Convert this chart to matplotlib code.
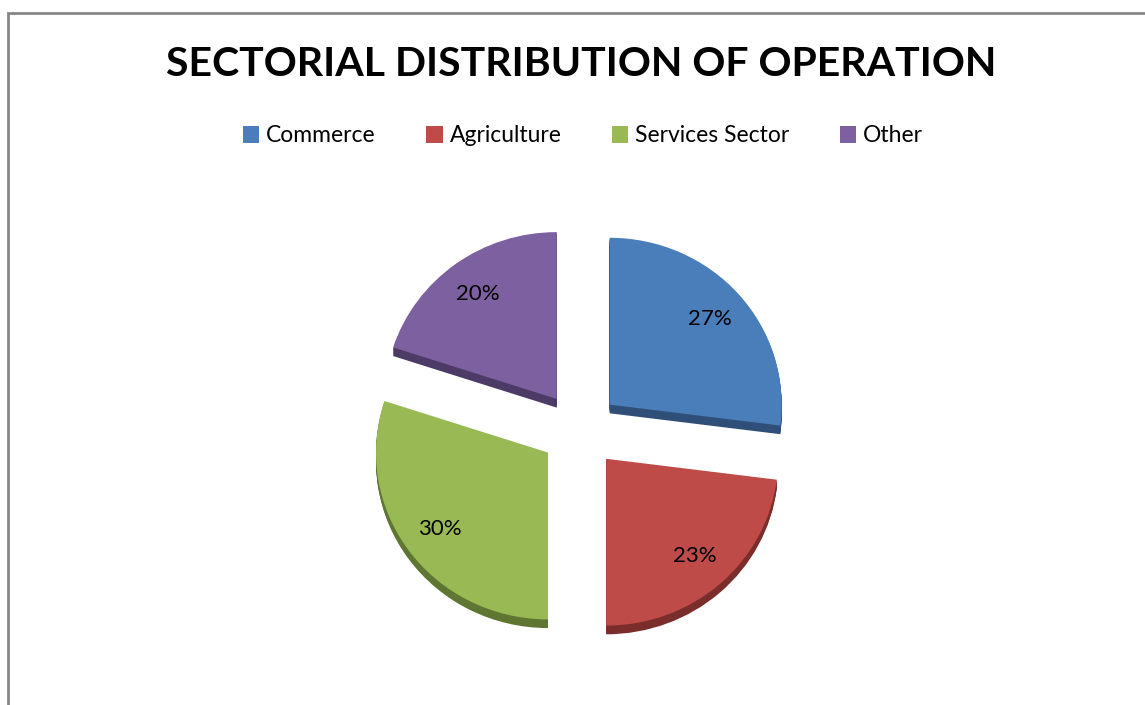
import matplotlib.pyplot as plt
from matplotlib.patches import Rectangle, Patch

sectors = ["Commerce", "Agriculture", "Services Sector", "Other"]
shares = [27, 23, 30, 20]
face_colors = ["#4A7EBB", "#BE4B48", "#98B954", "#7D60A0"]
side_colors = ["#2F4F78", "#7A2D2B", "#5F7632", "#4C3B66"]

W, H = 1145, 705
fig = plt.figure(figsize=(W / 100, H / 100), dpi=100)
fig.patch.set_facecolor("white")

# chart frame (only top and left edges fall inside the image)
fig.add_artist(Rectangle((8 / W, -0.1), 2.0, (H - 13) / H + 0.1,
                         transform=fig.transFigure, fill=False,
                         edgecolor="#868686", linewidth=2))

# pie axes: 1 data unit = 172 px across, a little flatter vertically
rx, ry = 172, 172 * 0.97
cx, cy = 580, H - 430
ax = fig.add_axes([(cx - 1.5 * rx) / W, (cy - 1.5 * ry) / H, 3 * rx / W, 3 * ry / H])

explode = [0.23] * len(shares)

# extruded sides: darker copies shifted downward
for k in range(1, 9):
    ax.pie(shares, colors=side_colors, explode=explode, startangle=90,
           counterclock=False, center=(0, -0.0065 * k),
           wedgeprops=dict(linewidth=0))

wedges, _, autotexts = ax.pie(
    shares, colors=face_colors, explode=explode, startangle=90,
    counterclock=False, autopct=lambda p: f"{p:.0f}%", pctdistance=0.78,
    wedgeprops=dict(linewidth=0),
    textprops=dict(fontsize=16, family="Lato", color="black"))

ax.set_aspect("auto")
ax.set_xlim(-1.5, 1.5)
ax.set_ylim(-1.5, 1.5)
ax.axis("off")

fig.text(581 / W, 1 - 64 / H, "SECTORIAL DISTRIBUTION OF OPERATION",
         ha="center", va="center", fontsize=29.5, fontweight="bold", family="Lato")

handles = [Patch(facecolor=c, edgecolor="none") for c in face_colors]
fig.legend(handles, sectors, loc="center", bbox_to_anchor=(583 / W, 1 - 136 / H),
           ncol=4, frameon=False, prop=dict(family="Lato", size=16.5),
           handlelength=0.72, handleheight=0.72, handletextpad=0.3,
           columnspacing=2.2)

fig.savefig("out.png", dpi=100, facecolor="white")
